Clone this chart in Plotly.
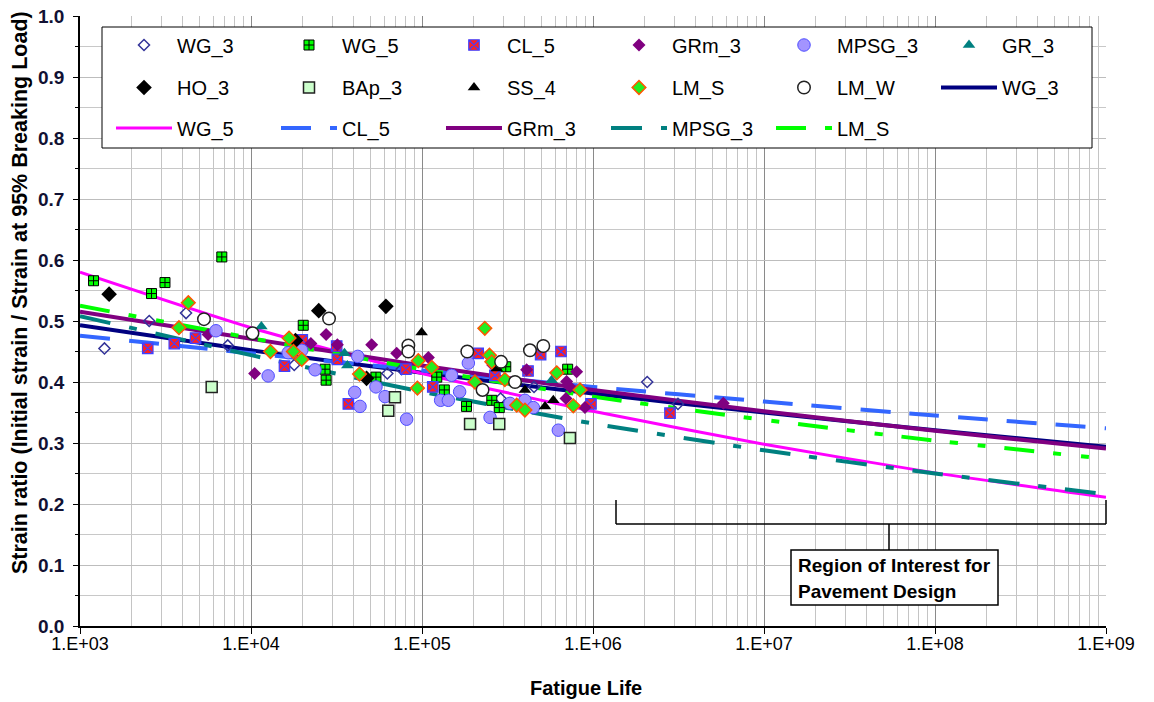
import plotly.graph_objects as go

# ---------------- data ----------------
decades = [1e3, 1e4, 1e5, 1e6, 1e7, 1e8, 1e9]

# trend lines (strain ratio at each decade of fatigue life)
fit_WG_3 = [0.493, 0.452, 0.415, 0.381, 0.350, 0.321, 0.294]
fit_WG_5 = [0.580, 0.489, 0.414, 0.352, 0.298, 0.251, 0.211]
fit_CL_5 = [0.476, 0.447, 0.419, 0.392, 0.368, 0.345, 0.324]
fit_GRm_3 = [0.515, 0.471, 0.427, 0.387, 0.352, 0.320, 0.291]
fit_MPSG_3 = [0.508, 0.444, 0.384, 0.332, 0.288, 0.250, 0.216]
fit_LM_S = [0.525, 0.472, 0.421, 0.376, 0.338, 0.304, 0.274]

# measured points: fatigue life (N) and strain ratio
wg3_n = [1390, 2540, 4170, 7310, 17900, 62700, 76000, 288000, 452000, 2075000, 3140000]
wg3_s = [0.455, 0.500, 0.513, 0.460, 0.428, 0.414, 0.421, 0.373, 0.392, 0.400, 0.364]

wg5_n = [1200, 2620, 3140, 6750, 20200, 27100, 27500, 53800, 122000, 135000, 182000,
         256000, 283000, 309000, 711000]
wg5_s = [0.566, 0.545, 0.563, 0.605, 0.493, 0.421, 0.403, 0.408, 0.408, 0.387, 0.360,
         0.370, 0.358, 0.425, 0.421]

cl5_n = [2490, 3560, 4740, 15700, 19950, 31700, 32000, 37100, 80500, 115600, 213000,
         267000, 417000, 494000, 650000, 973000, 2820000]
cl5_s = [0.455, 0.463, 0.472, 0.426, 0.469, 0.459, 0.437, 0.364, 0.421, 0.392, 0.447,
         0.411, 0.418, 0.445, 0.450, 0.364, 0.349]

grm3_n = [5610, 10500, 22400, 27500, 32000, 50800, 71100, 109000, 259000, 409000,
          701000, 733000, 695000, 802000, 897000, 5780000]
grm3_s = [0.478, 0.414, 0.463, 0.478, 0.461, 0.461, 0.447, 0.440, 0.428, 0.420,
          0.401, 0.392, 0.373, 0.417, 0.358, 0.365]

mpsg3_n = [6240, 12600, 16500, 19800, 23700, 40400, 43400, 42100, 53800, 60800, 81300,
           128500, 142600, 148900, 166000, 186600, 250000, 327000, 400000, 448000, 627000]
mpsg3_s = [0.484, 0.410, 0.448, 0.452, 0.420, 0.383, 0.360, 0.442, 0.392, 0.376, 0.339,
           0.370, 0.370, 0.411, 0.384, 0.431, 0.342, 0.365, 0.370, 0.358, 0.321]

gr3_n = [11500, 35200, 36600, 573000]
gr3_s = [0.491, 0.447, 0.427, 0.403]

ho3_n = [1480, 18200, 24900, 47400, 61500]
ho3_s = [0.544, 0.468, 0.517, 0.406, 0.524]

bap3_n = [5890, 63500, 69500, 191000, 283000, 733000]
bap3_s = [0.392, 0.353, 0.375, 0.331, 0.331, 0.308]

ss4_n = [99500, 274000, 400000, 524000, 586000]
ss4_s = [0.481, 0.422, 0.387, 0.360, 0.370]

lms_n = [3790, 4300, 13000, 16700, 17700, 19800, 43100, 94000, 95100, 114000, 233000,
         248000, 256000, 204000, 305000, 358000, 400000, 614000, 840000, 767000]
lms_s = [0.489, 0.530, 0.450, 0.472, 0.450, 0.437, 0.413, 0.390, 0.435, 0.424, 0.488,
         0.444, 0.433, 0.400, 0.404, 0.362, 0.354, 0.415, 0.387, 0.361]

lmw_n = [5310, 10200, 28600, 83200, 83200, 184000, 290000, 226000, 350000, 428000, 512000]
lmw_s = [0.503, 0.480, 0.504, 0.460, 0.450, 0.450, 0.433, 0.387, 0.400, 0.452, 0.459]

x_tickvals = [1e3, 1e4, 1e5, 1e6, 1e7, 1e8, 1e9]
x_ticktext = ["1.E+03", "1.E+04", "1.E+05", "1.E+06", "1.E+07", "1.E+08", "1.E+09"]

# ---------------- figure ----------------
FONT = "Liberation Sans, Arial, sans-serif"
fig = go.Figure()

# trend lines
line_specs = [
    ("WG_3", fit_WG_3, "#000080", 4, "solid", "legend2", 6),
    ("WG_5", fit_WG_5, "#ff00ff", 3, "solid", "legend3", 1),
    ("CL_5", fit_CL_5, "#3366ff", 4, "30px,19px", "legend3", 2),
    ("GRm_3", fit_GRm_3, "#800080", 4, "solid", "legend3", 3),
    ("MPSG_3", fit_MPSG_3, "#008080", 4, "31px,19px,8px,19px", "legend3", 4),
    ("LM_S", fit_LM_S, "#00ff00", 4, "30px,19px,8px,20px,8px,19px", "legend3", 5),
]
for name, ys, col, w, dash, lg, rank in line_specs:
    fig.add_trace(go.Scatter(
        x=decades, y=ys, mode="lines", name=name,
        line=dict(color=col, width=w, dash=dash, shape="spline", smoothing=0.6),
        legend=lg, legendrank=rank, hoverinfo="skip"))

# measured points
pt_specs = [
    ("WG_3", wg3_n, wg3_s, dict(symbol="diamond-open", size=8.5, color="#333399",
                               line=dict(color="#333399", width=1.5)), "legend", 1),
    ("WG_5", wg5_n, wg5_s, dict(symbol="square-cross", size=10, color="#00ff00",
                               line=dict(color="black", width=1)), "legend", 2),
    ("CL_5", cl5_n, cl5_s, dict(symbol="square-x", size=10.5, color="#ff2020",
                               line=dict(color="#4040ff", width=1.2)), "legend", 3),
    ("GRm_3", grm3_n, grm3_s, dict(symbol="diamond", size=10, color="#800080",
                                  line=dict(width=0)), "legend", 4),
    ("MPSG_3", mpsg3_n, mpsg3_s, dict(symbol="circle", size=12.5, color="#a394ff",
                                     line=dict(color="#4d4dff", width=1)), "legend", 5),
    ("GR_3", gr3_n, gr3_s, dict(symbol="triangle-up", size=11, color="#008080",
                               line=dict(width=0)), "legend", 6),
    ("HO_3", ho3_n, ho3_s, dict(symbol="diamond", size=12, color="black",
                               line=dict(width=0)), "legend2", 1),
    ("BAp_3", bap3_n, bap3_s, dict(symbol="square", size=11, color="#ccffcc",
                                  line=dict(color="#222222", width=1.5)), "legend2", 2),
    ("SS_4", ss4_n, ss4_s, dict(symbol="triangle-up", size=11, color="black",
                               line=dict(width=0)), "legend2", 3),
    ("LM_S", lms_n, lms_s, dict(symbol="diamond", size=10.5, color="#22ee22",
                               line=dict(color="#ff5500", width=1.5)), "legend2", 4),
    ("LM_W", lmw_n, lmw_s, dict(symbol="circle", size=12.5, color="white",
                               line=dict(color="#222222", width=1.5)), "legend2", 5),
]
for name, xs, ys, mk, lg, rank in pt_specs:
    fig.add_trace(go.Scatter(x=xs, y=ys, mode="markers", name=name, marker=mk,
                             legend=lg, legendrank=rank, hoverinfo="skip"))

# page pixel -> paper coordinates (plot area spans x 80..1106, y 16..626 on the page)
def px_x(px):
    return (px - 80) / 1026.0

def px_y(py):
    return (626 - py) / 610.0

leg_common = dict(orientation="h", xanchor="left", yanchor="middle", x=px_x(111),
                  bgcolor="rgba(0,0,0,0)", borderwidth=0, itemwidth=56,
                  entrywidth=94, entrywidthmode="pixels", traceorder="normal",
                  font=dict(family=FONT, size=20, color="black"))

shapes = [
    # legend frame (white, covers grid)
    dict(type="rect", xref="paper", yref="paper", x0=px_x(102), x1=px_x(1092),
         y0=px_y(148), y1=px_y(27), fillcolor="white", line=dict(color="black", width=1),
         layer="above"),
    # bracket for region of interest
    dict(type="line", xref="paper", yref="paper", x0=px_x(616), x1=px_x(616),
         y0=px_y(500), y1=px_y(524), line=dict(color="black", width=1.5)),
    dict(type="line", xref="paper", yref="paper", x0=px_x(616), x1=px_x(1106),
         y0=px_y(524), y1=px_y(524), line=dict(color="black", width=1.5)),
    dict(type="line", xref="paper", yref="paper", x0=px_x(1106), x1=px_x(1106),
         y0=px_y(500), y1=px_y(524), line=dict(color="black", width=1.5)),
    dict(type="line", xref="paper", yref="paper", x0=px_x(889), x1=px_x(889),
         y0=px_y(524), y1=px_y(550), line=dict(color="black", width=1.5)),
    dict(type="rect", xref="paper", yref="paper", x0=px_x(791), x1=px_x(998),
         y0=px_y(605), y1=px_y(550), fillcolor="white", line=dict(color="black", width=1.5),
         layer="above"),
]

annotations = [
    dict(text="<b>Region of Interest for</b>", xref="paper", yref="paper",
         x=px_x(796), y=px_y(565), xanchor="left", yanchor="middle", showarrow=False,
         font=dict(family=FONT, size=19, color="black")),
    dict(text="<b>Pavement Design</b>", xref="paper", yref="paper",
         x=px_x(796), y=px_y(591), xanchor="left", yanchor="middle", showarrow=False,
         font=dict(family=FONT, size=19, color="black")),
    dict(text="<b>Strain ratio (Initial strain / Strain at 95% Breaking Load)</b>",
         xref="paper", yref="paper", x=px_x(20), y=px_y(293), textangle=-90,
         xanchor="center", yanchor="middle", showarrow=False,
         font=dict(family=FONT, size=21.5, color="black")),
    dict(text="<b>Fatigue Life</b>", xref="paper", yref="paper",
         x=px_x(586), y=px_y(688), xanchor="center", yanchor="middle", showarrow=False,
         font=dict(family=FONT, size=20, color="black")),
]

fig.update_layout(
    width=1154, height=702, autosize=False,
    margin=dict(l=80, r=48, t=16, b=76, autoexpand=False),
    paper_bgcolor="white", plot_bgcolor="white",
    font=dict(family=FONT, color="black"),
    showlegend=True,
    legend=dict(leg_common, y=px_y(45)),
    legend2=dict(leg_common, y=px_y(87.5)),
    legend3=dict(leg_common, y=px_y(128)),
    shapes=shapes, annotations=annotations,
    xaxis=dict(type="log", range=[3, 9], tickvals=x_tickvals, ticktext=x_ticktext,
               automargin=False,
               ticks="outside", ticklen=6, tickcolor="black", tickwidth=1,
               ticklabelstandoff=-5, ticklabeloverflow="allow",
               showline=True, linecolor="black", linewidth=1.5,
               showgrid=True, gridcolor="#8a8a8a", gridwidth=1, zeroline=False,
               tickfont=dict(family=FONT, size=18, color="black"),
               minor=dict(dtick="D1", showgrid=True, gridcolor="#c4c4c4", gridwidth=1,
                          ticks="")),
    yaxis=dict(range=[0, 1], dtick=0.1, tick0=0, tickformat=".1f",
               automargin=False,
               ticks="outside", ticklen=5, tickcolor="black", tickwidth=1,
               ticklabelstandoff=5, ticklabeloverflow="allow",
               showline=True, linecolor="black", linewidth=1.5,
               showgrid=True, gridcolor="#bdbdbd", gridwidth=1, zeroline=False,
               tickfont=dict(family=FONT, size=19, color="#111133", weight="bold"),
               minor=dict(dtick=0.05, showgrid=True, gridcolor="#c8c8c8", gridwidth=1,
                          ticks="outside", ticklen=3, tickcolor="black")),
)

# remove the browser's default 8px body margin so the figure fills the window exactly
fig.write_html("out.html", config={"displayModeBar": False},
               post_script="document.body.style.margin='0';document.body.style.overflow='hidden';")
